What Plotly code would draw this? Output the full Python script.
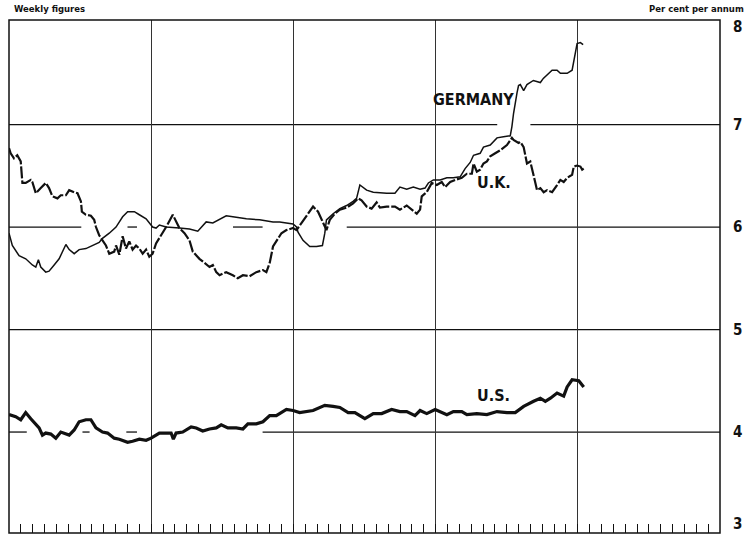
import plotly.graph_objects as go

# months from start of chart (weekly observations, sampled)
germany_x = [0.0, 0.28, 0.85, 1.41, 1.97, 2.26, 2.48, 2.68, 3.10, 3.38, 3.81, 4.23, 4.80, 5.08, 5.50, 5.92,
             6.49, 7.05, 7.61, 7.89, 8.46, 9.03, 9.59, 10.01, 10.58, 11.00, 11.57, 12.12, 12.41, 12.69, 13.26,
             14.38, 15.23, 15.93, 16.64, 17.20, 18.33, 18.89, 20.03, 21.15, 22.28, 22.84, 23.41, 23.97, 24.26,
             24.39, 24.81, 25.38, 25.95, 26.45, 26.65, 26.79, 27.35, 27.92, 28.49, 29.04, 29.33, 29.61, 30.18,
             30.74, 31.87, 32.57, 32.99, 33.56, 34.12, 34.69, 35.11, 35.39, 35.81, 36.38, 36.95, 37.50, 38.07,
             38.49, 38.92, 39.20, 39.76, 40.04, 40.61, 41.18, 41.73, 42.30, 42.44, 42.58, 42.87, 43.00, 43.15,
             43.43, 43.71, 44.25, 44.84, 45.09, 45.83, 46.25, 46.53, 47.10, 47.52, 47.80, 47.94, 48.22, 48.45]
germany_y = [5.94, 5.82, 5.72, 5.69, 5.63, 5.61, 5.68, 5.61, 5.56, 5.57, 5.63, 5.69, 5.83, 5.78, 5.74, 5.78,
             5.79, 5.82, 5.85, 5.89, 5.94, 6.00, 6.10, 6.15, 6.15, 6.12, 6.08, 6.00, 5.99, 6.02, 6.00,
             5.99, 5.98, 5.96, 6.05, 6.04, 6.11, 6.10, 6.08, 6.07, 6.05, 6.05, 6.04, 6.03, 6.00,
             5.95, 5.87, 5.81, 5.81, 5.82, 5.94, 6.07, 6.13, 6.18, 6.21, 6.25, 6.28, 6.41, 6.36,
             6.34, 6.33, 6.33, 6.39, 6.37, 6.39, 6.37, 6.38, 6.43, 6.46, 6.46, 6.48, 6.48, 6.49,
             6.57, 6.63, 6.70, 6.72, 6.78, 6.80, 6.87, 6.88, 6.89, 6.98, 7.11, 7.31, 7.38, 7.39,
             7.33, 7.39, 7.43, 7.41, 7.45, 7.53, 7.53, 7.50, 7.50, 7.53, 7.73, 7.79, 7.80, 7.78]

uk_x = [0.0, 0.14, 0.42, 0.70, 0.99, 1.13, 1.41, 1.84, 1.97, 2.26, 2.68, 3.10, 3.38, 3.66, 4.09, 4.37, 4.80,
        5.08, 5.50, 5.78, 6.07, 6.15, 6.49, 6.91, 7.19, 7.34, 7.61, 7.89, 8.18, 8.46, 8.88, 9.03, 9.31, 9.59,
        9.87, 10.15, 10.43, 10.72, 11.00, 11.28, 11.57, 11.84, 12.12, 12.41, 12.69, 13.26, 13.82, 14.38, 14.81,
        15.23, 15.51, 16.07, 16.50, 16.92, 17.20, 17.49, 17.77, 18.33, 18.89, 19.31, 19.74, 20.30, 20.87, 21.43,
        21.72, 22.00, 22.28, 22.56, 22.99, 23.41, 23.97, 24.26, 24.68, 25.10, 25.66, 26.08, 26.37, 26.79, 27.07,
        27.50, 27.92, 28.49, 29.04, 29.47, 29.75, 30.18, 30.60, 31.02, 31.30, 31.87, 32.57, 32.99, 33.56, 33.98,
        34.41, 34.69, 34.83, 35.25, 35.68, 36.10, 36.52, 36.80, 37.23, 37.65, 38.21, 38.64, 39.06, 39.20, 39.48,
        39.76, 40.04, 40.33, 40.61, 41.03, 41.46, 42.02, 42.44, 42.58, 43.00, 43.15, 43.43, 43.71, 43.99, 44.42,
        44.56, 44.84, 45.12, 45.41, 45.83, 46.25, 46.53, 46.81, 47.10, 47.52, 47.66, 47.94, 48.22, 48.37, 48.50]
uk_y = [6.77, 6.72, 6.67, 6.70, 6.64, 6.43, 6.43, 6.46, 6.44, 6.33, 6.38, 6.43, 6.38, 6.30, 6.28, 6.31, 6.31,
        6.36, 6.34, 6.33, 6.25, 6.15, 6.12, 6.11, 6.07, 6.00, 5.92, 5.87, 5.82, 5.74, 5.76, 5.82, 5.73, 5.91,
        5.79, 5.86, 5.78, 5.82, 5.79, 5.74, 5.78, 5.71, 5.74, 5.84, 5.89, 6.00, 6.12, 5.99, 5.94,
        5.87, 5.76, 5.69, 5.65, 5.61, 5.63, 5.56, 5.53, 5.56, 5.53, 5.50, 5.53, 5.52, 5.56, 5.58,
        5.56, 5.65, 5.81, 5.86, 5.94, 5.97, 5.99, 5.97, 6.04, 6.10, 6.20, 6.15, 6.08, 5.97, 6.07,
        6.13, 6.17, 6.19, 6.23, 6.28, 6.26, 6.20, 6.18, 6.24, 6.19, 6.20, 6.20, 6.17, 6.21, 6.17,
        6.13, 6.17, 6.30, 6.34, 6.43, 6.41, 6.44, 6.39, 6.44, 6.46, 6.48, 6.52, 6.52, 6.62, 6.54,
        6.56, 6.62, 6.64, 6.69, 6.72, 6.75, 6.80, 6.87, 6.85, 6.82, 6.83, 6.78, 6.62, 6.64, 6.43,
        6.36, 6.38, 6.34, 6.36, 6.34, 6.41, 6.46, 6.44, 6.48, 6.51, 6.59, 6.60, 6.59, 6.56, 6.57]

us_x = [0.0, 0.57, 0.99, 1.41, 1.84, 2.26, 2.54, 2.82, 3.10, 3.53, 3.95, 4.37, 4.65, 5.08, 5.50, 5.92, 6.49,
        6.91, 7.34, 7.89, 8.32, 8.88, 9.31, 10.01, 10.43, 11.00, 11.57, 11.99, 12.41, 12.69, 13.26, 13.68, 13.87,
        14.10, 14.66, 15.37, 15.80, 16.35, 16.92, 17.49, 17.91, 18.47, 19.18, 19.74, 20.16, 20.87, 21.43, 22.00,
        22.56, 23.41, 23.97, 24.53, 25.66, 26.65, 27.35, 27.92, 28.62, 29.19, 30.03, 30.74, 31.45, 32.29, 32.99,
        33.56, 34.26, 34.69, 35.25, 35.96, 36.95, 37.50, 38.21, 38.64, 39.48, 40.33, 41.18, 42.02, 42.72, 43.43,
        44.27, 44.84, 45.26, 45.69, 46.25, 46.81, 47.10, 47.52, 48.08, 48.50]
us_y = [4.17, 4.15, 4.12, 4.19, 4.13, 4.08, 4.04, 3.97, 3.99, 3.98, 3.94, 4.00, 3.99, 3.97, 4.02, 4.10, 4.12,
        4.12, 4.04, 4.00, 3.99, 3.94, 3.93, 3.90, 3.91, 3.93, 3.92, 3.94, 3.97, 3.99, 3.99, 3.99, 3.93,
        3.99, 4.00, 4.05, 4.04, 4.01, 4.03, 4.04, 4.07, 4.04, 4.04, 4.03, 4.08, 4.08, 4.10, 4.16,
        4.16, 4.22, 4.21, 4.19, 4.21, 4.26, 4.25, 4.24, 4.19, 4.19, 4.13, 4.18, 4.18, 4.22, 4.20,
        4.20, 4.16, 4.21, 4.18, 4.22, 4.17, 4.20, 4.20, 4.17, 4.18, 4.17, 4.20, 4.19, 4.19, 4.25,
        4.30, 4.33, 4.30, 4.33, 4.38, 4.35, 4.44, 4.51, 4.50, 4.44]

y_tick_values = [8, 7, 6, 5, 4, 3]
y_tick_labels = ["8", "7", "6", "5", "4", "3"]

FONT = "DejaVu Sans Condensed, Liberation Sans Narrow, DejaVu Sans, sans-serif"
INK = "#111111"

fig = go.Figure()
fig.add_trace(go.Scatter(x=germany_x, y=germany_y, mode="lines", name="Germany",
                         line=dict(color=INK, width=1.5)))
fig.add_trace(go.Scatter(x=uk_x, y=uk_y, mode="lines", name="U.K.",
                         line=dict(color=INK, width=2.2, dash="12px,2px")))
fig.add_trace(go.Scatter(x=us_x, y=us_y, mode="lines", name="U.S.",
                         line=dict(color=INK, width=3.2)))

shapes = []
# broken horizontal rules (as in the original print)
hsegs = {
    7: [(0, 41.2), (44.0, 60)],
    6: [(0, 6.1), (10.0, 10.8), (18.9, 21.4), (28.5, 60)],
    5: [(0, 60)],
    4: [(0, 1.5), (6.2, 6.8), (9.9, 10.8), (21.4, 60)],
}
for yv, segs in hsegs.items():
    for a, b in segs:
        shapes.append(dict(type="line", xref="x", yref="y", x0=a, x1=b, y0=yv, y1=yv,
                           line=dict(color=INK, width=1.3), layer="below"))
# frame
shapes.append(dict(type="rect", xref="paper", yref="paper", x0=0, x1=1, y0=0, y1=1,
                   line=dict(color=INK, width=1.5)))

annotations = []
for v, t in zip(y_tick_values, y_tick_labels):
    if v == 3:
        pos = dict(y=0, yref="paper", yshift=9)
    elif v == 8:
        pos = dict(y=v, yref="y", yshift=-5)
    else:
        pos = dict(y=v, yref="y", yshift=0)
    annotations.append(dict(x=1.024, xref="paper", text="<b>%s</b>" % t,
                            showarrow=False, xanchor="center", yanchor="middle",
                            font=dict(family=FONT, size=15, color=INK), **pos))
annotations += [
    dict(x=0.004, xref="paper", y=1.0, yref="paper", yshift=4, text="<b>Weekly figures</b>", showarrow=False,
         xanchor="left", yanchor="bottom", font=dict(family="DejaVu Sans, sans-serif", size=8.5, color=INK)),
    dict(x=1.0, xref="paper", xshift=26, y=1.0, yref="paper", yshift=4, text="<b>Per cent per annum</b>",
         showarrow=False, xanchor="right", yanchor="bottom",
         font=dict(family="DejaVu Sans, sans-serif", size=8.5, color=INK)),
    dict(x=39.2, y=7.24, text="<b>GERMANY</b>", showarrow=False,
         font=dict(family=FONT, size=16, color=INK)),
    dict(x=40.9, y=6.43, text="<b>U.K.</b>", showarrow=False,
         font=dict(family=FONT, size=16, color=INK)),
    dict(x=40.9, y=4.36, text="<b>U.S.</b>", showarrow=False,
         font=dict(family=FONT, size=16, color=INK)),
]

fig.update_layout(
    width=749, height=534,
    margin=dict(l=9, r=29, t=20, b=1),
    paper_bgcolor="white", plot_bgcolor="white",
    showlegend=False,
    shapes=shapes, annotations=annotations,
    xaxis=dict(range=[0, 60], tick0=0, dtick=12, ticks="inside", ticklen=9, tickcolor=INK, tickwidth=1,
               showticklabels=False, showgrid=True, gridcolor="#333333", gridwidth=1, zeroline=False,
               showline=False,
               minor=dict(dtick=1, tick0=0, ticks="inside", ticklen=9, tickcolor=INK, tickwidth=1, showgrid=False)),
    yaxis=dict(range=[3.015, 8.02], showticklabels=False, showgrid=False, zeroline=False, ticks="",
               showline=False),
)

fig.write_html("out.html", config={"displayModeBar": False},
               post_script="document.body.style.margin='0';document.body.style.overflow='hidden';")
